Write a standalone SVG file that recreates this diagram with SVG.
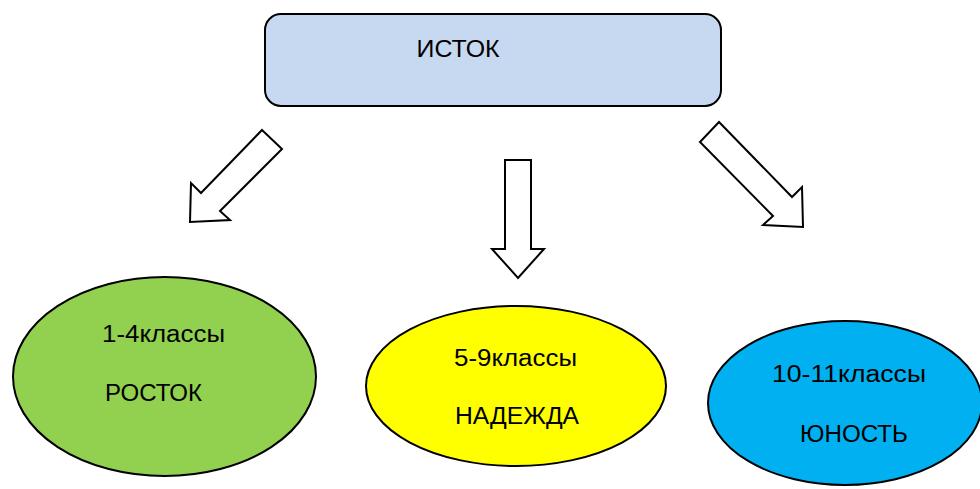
<svg xmlns="http://www.w3.org/2000/svg" width="980" height="489" viewBox="0 0 980 489">
<style>
.t{font-family:"Liberation Sans","Noto Sans",Arial,sans-serif;font-size:23px;fill:#000;text-anchor:middle}
.s{stroke:#000;stroke-width:2}
.a{fill:#fff;stroke:#000;stroke-width:2;stroke-linejoin:miter}
</style>
<rect width="980" height="489" fill="#fff"/>
<g id="istok">
<rect class="s" x="265" y="14" width="456" height="92" rx="16" fill="#c6d9f1"/>
<text class="t" x="458" y="56.5" textLength="83" lengthAdjust="spacingAndGlyphs">ИСТОК</text>
</g>
<g id="connectors">
<polygon class="a" points="262,130 282,149 220,211 230,220 190,222 191,183 201,193"/>
<polygon class="a" points="505,160 531,160 531,249 544,249 518,278 492,249 505,249"/>
<polygon class="a" points="719,122 792,197 802,187 803,227 763,225 773,216 700,142"/>
</g>
<g id="rostok">
<ellipse class="s" cx="164.5" cy="376.5" rx="151.5" ry="99.5" fill="#92d050"/>
<text class="t" x="163.5" y="342" textLength="123" lengthAdjust="spacingAndGlyphs">1-4классы</text>
<text class="t" x="153.5" y="401" textLength="97" lengthAdjust="spacingAndGlyphs">РОСТОК</text>
</g>
<g id="nadezhda">
<ellipse class="s" cx="516" cy="386" rx="150" ry="80" fill="#ffff00"/>
<text class="t" x="515.5" y="366" textLength="123" lengthAdjust="spacingAndGlyphs">5-9классы</text>
<text class="t" x="517" y="423.5" textLength="124" lengthAdjust="spacingAndGlyphs">НАДЕЖДА</text>
</g>
<g id="yunost">
<ellipse class="s" cx="845" cy="403" rx="137" ry="82" fill="#00b0f0"/>
<text class="t" x="849" y="382" textLength="154" lengthAdjust="spacingAndGlyphs">10-11классы</text>
<text class="t" x="854" y="442" textLength="108" lengthAdjust="spacingAndGlyphs">ЮНОСТЬ</text>
</g>
</svg>
